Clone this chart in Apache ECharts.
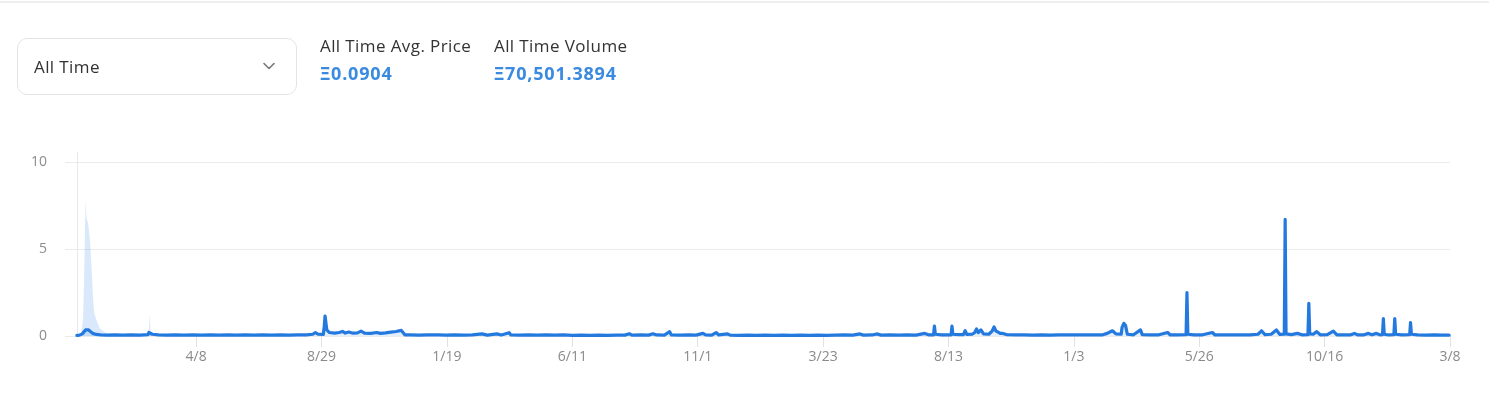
<!DOCTYPE html>
<html>
<head>
<meta charset="utf-8">
<script src="https://cdn.jsdelivr.net/npm/echarts@6/dist/echarts.min.js"></script>
<style>
  html, body { margin: 0; padding: 0; background: #fff; width: 1489px; height: 412px; overflow: hidden; font-family: "Open Sans", "Noto Sans", sans-serif; }
  #chart { position: absolute; left: 0; top: 0; width: 1489px; height: 412px; }
  .topline { position: absolute; left: 0; top: 1px; width: 1489px; height: 2px; background: #eeeeee; }
  .select { position: absolute; left: 17px; top: 38px; width: 278px; height: 55px; border: 1px solid #e4e4e4; border-radius: 10px; box-sizing: content-box; }
  .select span { position: absolute; left: 16px; top: 0; line-height: 55px; font-size: 17px; letter-spacing: 0.4px; color: #333; }
  .select svg { position: absolute; left: 244px; top: 22px; }
  .stat { position: absolute; top: 33px; }
  .stat .lbl { font-size: 17px; letter-spacing: 0.4px; color: #333; line-height: 26px; white-space: nowrap; }
  .stat .val { font-size: 18px; font-weight: 700; letter-spacing: 0.8px; color: #3a8ae0; line-height: 26px; margin-top: 1px; white-space: nowrap; }
</style>
</head>
<body>
<div id="chart"></div>
<div class="topline"></div>
<div class="select"><span id="rangeLabel"></span>
  <svg width="14" height="10" viewBox="0 0 14 10"><polyline points="2,2.5 7,7.5 12,2.5" fill="none" stroke="#777" stroke-width="1.6" stroke-linecap="round" stroke-linejoin="round"/></svg>
</div>
<div class="stat" style="left:320px"><div class="lbl" id="s1l"></div><div class="val" id="s1v"></div></div>
<div class="stat" style="left:494px"><div class="lbl" id="s2l"></div><div class="val" id="s2v"></div></div>
<script>
// ---------- data ----------
const rangeLabel = 'All Time';
const statLabels = ['All Time Avg. Price', 'All Time Volume'];
const statValues = ['Ξ0.0904', 'Ξ70,501.3894'];

const firstDate = '2017-11-23';
const lastDate = '2022-03-08';
const tickDates = ['2018-04-08','2018-08-29','2019-01-19','2019-06-11','2019-11-01','2020-03-23','2020-08-13','2021-01-03','2021-05-26','2021-10-16','2022-03-08'];
const tickLabels = ['4/8','8/29','1/19','6/11','11/1','3/23','8/13','1/3','5/26','10/16','3/8'];
const yTicks = [0, 5, 10];

// light area (high price band)
const highPrice = [
  ['2017-11-23',0.05],['2017-11-28',0.1],['2017-11-29',0.2],['2017-11-30',1.0],['2017-12-01',2.8],['2017-12-02',5.5],
  ['2017-12-03',7.8],['2017-12-04',6.8],['2017-12-05',6.9],['2017-12-06',6.4],['2017-12-07',6.3],['2017-12-08',5.4],
  ['2017-12-09',4.5],['2017-12-10',3.6],['2017-12-11',2.5],['2017-12-12',1.7],['2017-12-13',1.3],['2017-12-14',1.1],
  ['2017-12-15',0.95],['2017-12-17',0.7],['2017-12-19',0.45],['2017-12-21',0.35],['2017-12-24',0.25],['2017-12-28',0.15],
  ['2018-01-02',0.08],['2018-02-12',0.06],['2018-02-13',0.2],
  ['2018-02-14',1.26],['2018-02-15',0.25],['2018-02-17',0.08],['2018-03-01',0.05]
];

// average price line
const avgPrice = [
  ['2017-11-23',0.04],['2017-11-26',0.05],['2017-11-29',0.12],['2017-12-01',0.22],['2017-12-03',0.35],['2017-12-04',0.42],
  ['2017-12-06',0.36],['2017-12-08',0.25],['2017-12-11',0.15],['2017-12-15',0.09],['2017-12-20',0.06],['2017-12-27',0.05],
  ['2018-01-05',0.06],['2018-01-14',0.05],['2018-01-24',0.07],
  ['2018-02-03',0.05],['2018-02-12',0.08],['2018-02-13',0.2],['2018-02-14',0.3],['2018-02-15',0.22],['2018-02-17',0.1],['2018-02-24',0.06],
  ['2018-03-05',0.05],['2018-03-15',0.07],['2018-03-25',0.05],
  ['2018-04-04',0.06],['2018-04-14',0.05],['2018-04-24',0.07],
  ['2018-05-04',0.05],['2018-05-14',0.06],['2018-05-24',0.05],
  ['2018-06-03',0.07],['2018-06-13',0.05],['2018-06-23',0.06],
  ['2018-07-03',0.05],['2018-07-13',0.06],['2018-07-23',0.05],
  ['2018-08-02',0.06],['2018-08-12',0.07],['2018-08-19',0.1],['2018-08-22',0.2],['2018-08-25',0.1],['2018-08-31',0.09],
  ['2018-09-01',0.5],['2018-09-02',1.15],['2018-09-03',1.1],['2018-09-04',0.35],['2018-09-07',0.2],['2018-09-13',0.17],
  ['2018-09-18',0.2],['2018-09-22',0.26],['2018-09-25',0.17],['2018-09-29',0.23],['2018-10-04',0.16],['2018-10-09',0.18],
  ['2018-10-13',0.28],['2018-10-17',0.16],['2018-10-24',0.15],['2018-10-31',0.2],['2018-11-04',0.15],['2018-11-10',0.18],
  ['2018-11-16',0.22],['2018-11-22',0.26],['2018-11-28',0.32],['2018-11-30',0.3],['2018-12-02',0.07],
  ['2018-12-08',0.06],['2018-12-18',0.05],['2018-12-28',0.06],
  ['2019-01-05',0.06],['2019-01-07',0.15],['2019-01-09',0.06],['2019-01-18',0.05],['2019-01-28',0.06],
  ['2019-02-07',0.05],['2019-02-17',0.06],['2019-02-28',0.12],
  ['2019-03-06',0.05],['2019-03-17',0.12],['2019-03-22',0.06],['2019-03-31',0.19],['2019-04-02',0.06],
  ['2019-04-12',0.05],['2019-04-22',0.06],
  ['2019-05-02',0.05],['2019-05-12',0.07],['2019-05-22',0.05],
  ['2019-06-01',0.06],['2019-06-11',0.04],['2019-06-21',0.05],
  ['2019-07-01',0.04],['2019-07-11',0.05],['2019-07-21',0.04],['2019-07-31',0.05],
  ['2019-08-10',0.05],['2019-08-15',0.13],['2019-08-18',0.05],['2019-08-28',0.06],
  ['2019-09-06',0.05],['2019-09-11',0.13],['2019-09-15',0.06],['2019-09-24',0.05],['2019-09-30',0.25],['2019-10-02',0.06],
  ['2019-10-12',0.05],['2019-10-22',0.06],['2019-10-30',0.05],
  ['2019-11-07',0.15],['2019-11-10',0.06],['2019-11-17',0.05],['2019-11-22',0.2],['2019-11-25',0.06],
  ['2019-12-05',0.12],['2019-12-08',0.05],['2019-12-18',0.04],['2019-12-28',0.05],
  ['2020-01-07',0.04],['2020-01-17',0.05],['2020-01-27',0.04],
  ['2020-02-06',0.05],['2020-02-16',0.04],['2020-02-26',0.05],
  ['2020-03-07',0.04],['2020-03-17',0.05],['2020-03-27',0.04],
  ['2020-04-06',0.05],['2020-04-16',0.06],['2020-04-26',0.05],
  ['2020-05-04',0.12],['2020-05-08',0.05],['2020-05-18',0.06],['2020-05-24',0.12],['2020-05-28',0.05],
  ['2020-06-07',0.06],['2020-06-17',0.05],['2020-06-27',0.06],
  ['2020-07-07',0.05],['2020-07-17',0.15],['2020-07-22',0.06],['2020-07-27',0.07],['2020-07-28',0.57],['2020-07-29',0.1],
  ['2020-08-05',0.07],['2020-08-12',0.06],['2020-08-16',0.07],['2020-08-17',0.57],['2020-08-18',0.1],['2020-08-25',0.08],
  ['2020-08-30',0.08],['2020-09-01',0.3],['2020-09-03',0.09],['2020-09-09',0.1],['2020-09-12',0.2],['2020-09-14',0.4],
  ['2020-09-16',0.2],['2020-09-19',0.35],['2020-09-22',0.12],['2020-09-28',0.1],['2020-10-02',0.3],['2020-10-04',0.52],
  ['2020-10-06',0.3],['2020-10-08',0.3],['2020-10-11',0.15],['2020-10-14',0.15],['2020-10-18',0.08],['2020-10-28',0.06],
  ['2020-11-07',0.06],['2020-11-17',0.05],['2020-11-27',0.06],
  ['2020-12-07',0.05],['2020-12-17',0.06],['2020-12-27',0.07],
  ['2021-01-06',0.06],['2021-01-16',0.07],['2021-01-26',0.06],['2021-02-05',0.07],['2021-02-10',0.15],['2021-02-16',0.3],
  ['2021-02-20',0.12],['2021-02-26',0.1],['2021-02-27',0.5],['2021-03-01',0.73],['2021-03-03',0.6],['2021-03-05',0.1],
  ['2021-03-12',0.07],['2021-03-20',0.35],['2021-03-22',0.08],['2021-03-31',0.06],
  ['2021-04-10',0.07],['2021-04-20',0.2],['2021-04-23',0.06],['2021-05-01',0.07],['2021-05-11',0.08],['2021-05-12',2.5],
  ['2021-05-13',0.1],['2021-05-20',0.06],['2021-05-30',0.07],['2021-06-10',0.2],['2021-06-13',0.06],['2021-06-23',0.07],
  ['2021-07-03',0.06],['2021-07-13',0.07],['2021-07-23',0.06],['2021-08-01',0.1],['2021-08-05',0.3],['2021-08-09',0.08],
  ['2021-08-16',0.1],['2021-08-22',0.35],['2021-08-26',0.09],['2021-08-31',0.1],['2021-09-01',6.7],['2021-09-02',0.12],
  ['2021-09-08',0.08],['2021-09-15',0.15],['2021-09-20',0.07],['2021-09-27',0.08],['2021-09-28',1.88],['2021-09-29',0.12],
  ['2021-10-03',0.1],['2021-10-07',0.25],['2021-10-11',0.07],['2021-10-19',0.08],['2021-10-26',0.28],['2021-10-30',0.07],
  ['2021-11-08',0.07],['2021-11-14',0.06],['2021-11-19',0.15],['2021-11-23',0.06],['2021-11-30',0.07],['2021-12-05',0.15],
  ['2021-12-09',0.07],['2021-12-14',0.15],['2021-12-18',0.07],['2021-12-21',0.08],['2021-12-22',1.0],['2021-12-23',0.1],
  ['2021-12-28',0.06],['2022-01-03',0.08],['2022-01-04',1.0],['2022-01-05',0.1],['2022-01-12',0.07],['2022-01-21',0.08],
  ['2022-01-22',0.77],['2022-01-23',0.1],['2022-01-30',0.06],['2022-02-08',0.05],['2022-02-18',0.06],['2022-02-27',0.05],
  ['2022-03-07',0.05]
];

// ---------- build ----------
document.getElementById('rangeLabel').textContent = rangeLabel;
document.getElementById('s1l').textContent = statLabels[0];
document.getElementById('s1v').textContent = statValues[0];
document.getElementById('s2l').textContent = statLabels[1];
document.getElementById('s2v').textContent = statValues[1];

const DAY = 86400000;
const ts = s => { const p = s.split('-').map(Number); return Date.UTC(p[0], p[1] - 1, p[2]); };
const toSeries = arr => arr.map(d => [ts(d[0]), d[1]]);
const tickValues = tickDates.map(ts);

const FONT = '"Open Sans", "Noto Sans", sans-serif';
const chart = echarts.init(document.getElementById('chart'), null, { renderer: 'canvas' });
const option = {
  animation: false,
  grid: { left: 65, right: 39, top: 162, bottom: 76, containLabel: false, outerBoundsMode: 'none' },
  xAxis: {
    type: 'value',
    min: ts(firstDate) - 13.6 * DAY,
    max: ts(lastDate),
    axisLine: { show: false },
    axisTick: { show: true, customValues: tickValues, length: 11, lineStyle: { color: '#e2e2e2' } },
    axisLabel: {
      show: true, customValues: tickValues, margin: 14, color: '#8a8a8a', fontSize: 14, fontFamily: FONT,
      formatter: v => { let best = 0; tickValues.forEach((t, i) => { if (Math.abs(t - v) < Math.abs(tickValues[best] - v)) best = i; }); return tickLabels[best]; }
    },
    splitLine: { show: false }
  },
  yAxis: {
    type: 'value', min: yTicks[0], max: yTicks[yTicks.length - 1], interval: yTicks[1] - yTicks[0],
    axisLine: { show: false }, axisTick: { show: false },
    axisLabel: { color: '#8c8c8c', fontSize: 14, fontFamily: FONT, margin: 18 },
    splitLine: { lineStyle: { color: '#ebebeb', width: 1 } }
  },
  series: [
    {
      name: 'High', type: 'line', data: toSeries(highPrice), showSymbol: false, symbol: 'none',
      lineStyle: { width: 0 },
      areaStyle: { color: 'rgba(60,140,228,0.28)' }, z: 1
    },
    {
      name: 'Avg Price', type: 'line', data: toSeries(avgPrice), showSymbol: false, symbol: 'none',
      lineStyle: { width: 3.2, color: '#2479df', join: 'round', cap: 'round' },
      areaStyle: { color: 'rgba(40,125,225,0.18)' }, z: 3
    }
  ]
};
chart.setOption(option);

// thin vertical guide line at the first data point (reaches slightly above the plot)
const gx = chart.convertToPixel({ xAxisIndex: 0 }, ts(firstDate));
const gy0 = chart.convertToPixel({ yAxisIndex: 0 }, yTicks[0]);
const gyTop = chart.convertToPixel({ yAxisIndex: 0 }, yTicks[yTicks.length - 1]) - 10;
chart.setOption({
  graphic: [{ type: 'line', z: 0, silent: true, shape: { x1: Math.round(gx) + 0.5, y1: gyTop, x2: Math.round(gx) + 0.5, y2: gy0 }, style: { stroke: '#e8e8e8', lineWidth: 1 } }]
});
</script>
</body>
</html>
